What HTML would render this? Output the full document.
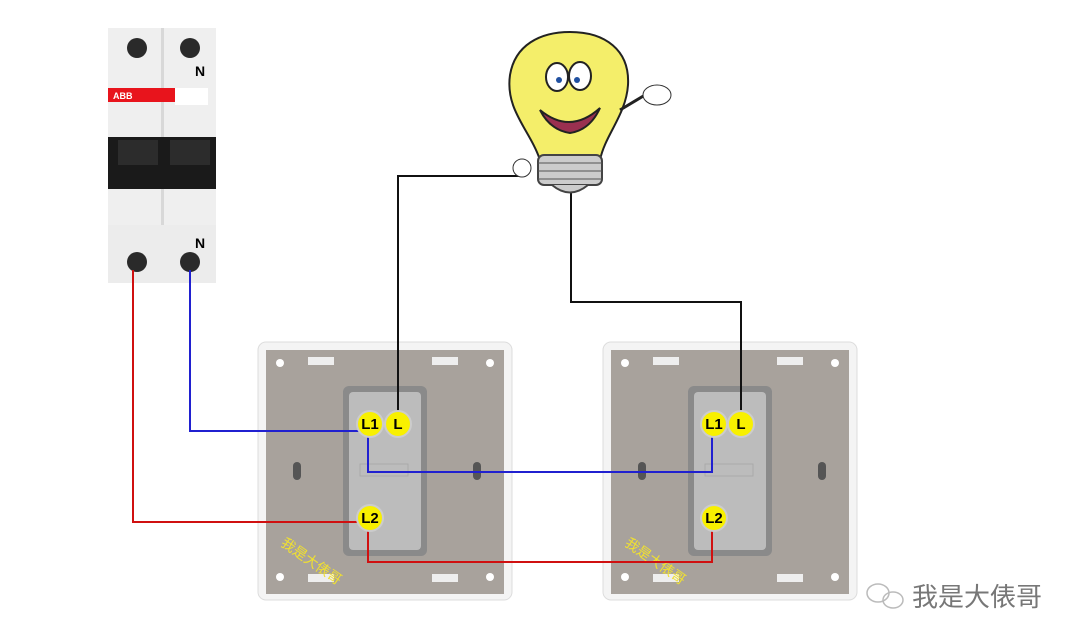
<!DOCTYPE html>
<html><head><meta charset="utf-8"><style>body{margin:0;background:#fff}svg{display:block}</style></head><body>
<svg width="1080" height="643" viewBox="0 0 1080 643" xmlns="http://www.w3.org/2000/svg" font-family="Liberation Sans, Noto Sans CJK SC, sans-serif">
<!-- breaker -->
<rect x="108" y="28" width="108" height="255" fill="#efefef"/>
<rect x="161" y="28" width="3" height="255" fill="#d8d8d8"/>
<rect x="108" y="88" width="78" height="14" fill="#e8141c"/>
<text x="113" y="99" font-size="9" font-weight="bold" fill="#fff">ABB</text>
<rect x="175" y="88" width="33" height="17" fill="#fff"/>
<rect x="108" y="137" width="108" height="52" fill="#1a1a1a"/>
<rect x="118" y="140" width="40" height="25" fill="#2c2c2c"/>
<rect x="170" y="140" width="40" height="25" fill="#2c2c2c"/>
<rect x="108" y="225" width="108" height="58" fill="#ececec"/>
<circle cx="137" cy="48" r="10" fill="#2a2a2a"/><circle cx="190" cy="48" r="10" fill="#2a2a2a"/>
<circle cx="137" cy="262" r="10" fill="#2a2a2a"/><circle cx="190" cy="262" r="10" fill="#2a2a2a"/>
<text x="195" y="76" font-size="14" font-weight="bold">N</text>
<text x="195" y="248" font-size="14" font-weight="bold">N</text>
<!-- plates -->
<g id="p">
<rect x="258" y="342" width="254" height="258" rx="8" fill="#f4f4f4" stroke="#ddd"/>
<rect x="266" y="350" width="238" height="244" fill="#a8a29c"/>
<circle cx="280" cy="363" r="4" fill="#fff"/><circle cx="490" cy="363" r="4" fill="#fff"/>
<circle cx="280" cy="577" r="4" fill="#fff"/><circle cx="490" cy="577" r="4" fill="#fff"/>
<rect x="308" y="357" width="26" height="8" fill="#eee"/><rect x="432" y="357" width="26" height="8" fill="#eee"/>
<rect x="308" y="574" width="26" height="8" fill="#eee"/><rect x="432" y="574" width="26" height="8" fill="#eee"/>
<rect x="293" y="462" width="8" height="18" rx="4" fill="#555"/><rect x="473" y="462" width="8" height="18" rx="4" fill="#555"/>
<rect x="343" y="386" width="84" height="170" rx="6" fill="#8a8a8a"/>
<rect x="349" y="392" width="72" height="158" rx="4" fill="#bcbcbc"/>
<rect x="360" y="464" width="48" height="12" fill="none" stroke="#aaa"/>
</g>
<use href="#p" x="345"/>
<text font-size="14" fill="#f0e030" transform="translate(280,545) rotate(35)">我是大俵哥</text>
<text font-size="14" fill="#f0e030" transform="translate(624,545) rotate(35)">我是大俵哥</text>
<!-- wires -->
<g fill="none" stroke-width="2">
<path d="M133 270V522H362M368 522V562H712V525" stroke="#d01010"/>
<path d="M190 270V431H362M368 430V472H712V432" stroke="#2020d0"/>
<path d="M398 416V176H520M571 192V302H741V416" stroke="#111"/>
</g>
<!-- terminals -->
<g font-size="15" font-weight="bold" text-anchor="middle">
<circle cx="370" cy="424" r="13" fill="#f8f000" stroke="#ccc" stroke-width="2"/><text x="370" y="429">L1</text>
<circle cx="398" cy="424" r="13" fill="#f8f000" stroke="#ccc" stroke-width="2"/><text x="398" y="429">L</text>
<circle cx="370" cy="518" r="13" fill="#f8f000" stroke="#ccc" stroke-width="2"/><text x="370" y="523">L2</text>
<circle cx="714" cy="424" r="13" fill="#f8f000" stroke="#ccc" stroke-width="2"/><text x="714" y="429">L1</text>
<circle cx="741" cy="424" r="13" fill="#f8f000" stroke="#ccc" stroke-width="2"/><text x="741" y="429">L</text>
<circle cx="714" cy="518" r="13" fill="#f8f000" stroke="#ccc" stroke-width="2"/><text x="714" y="523">L2</text>
</g>
<!-- bulb -->
<path d="M540 160C530 130 505 110 510 75C515 45 540 32 570 32C605 32 630 50 628 85C626 115 605 135 600 160Z" fill="#f4ee6a" stroke="#222" stroke-width="2"/>
<rect x="538" y="155" width="64" height="30" rx="6" fill="#ccc" stroke="#444" stroke-width="2"/>
<path d="M538 163H602M538 171H602M538 179H602" stroke="#555"/>
<path d="M552 185Q570 200 588 185" fill="#ccc" stroke="#444" stroke-width="2"/>
<ellipse cx="557" cy="77" rx="11" ry="14" fill="#fff" stroke="#222" stroke-width="2"/>
<ellipse cx="580" cy="76" rx="11" ry="14" fill="#fff" stroke="#222" stroke-width="2"/>
<circle cx="559" cy="80" r="3" fill="#2050a0"/><circle cx="577" cy="80" r="3" fill="#2050a0"/>
<path d="M540 110Q570 135 600 108Q590 130 570 133Q550 130 540 110Z" fill="#9a3050" stroke="#222" stroke-width="2"/>
<path d="M620 110L645 95" stroke="#222" stroke-width="3"/>
<ellipse cx="657" cy="95" rx="14" ry="10" fill="#fff" stroke="#333"/>
<ellipse cx="522" cy="168" rx="9" ry="9" fill="#fff" stroke="#333"/>
<!-- watermark -->
<g fill="none" stroke="#bbb" stroke-width="1.5"><ellipse cx="878" cy="593" rx="11" ry="9"/><ellipse cx="893" cy="600" rx="10" ry="8"/></g>
<text x="912" y="606" font-size="26" fill="#777">我是大俵哥</text>
</svg>
</body></html>
